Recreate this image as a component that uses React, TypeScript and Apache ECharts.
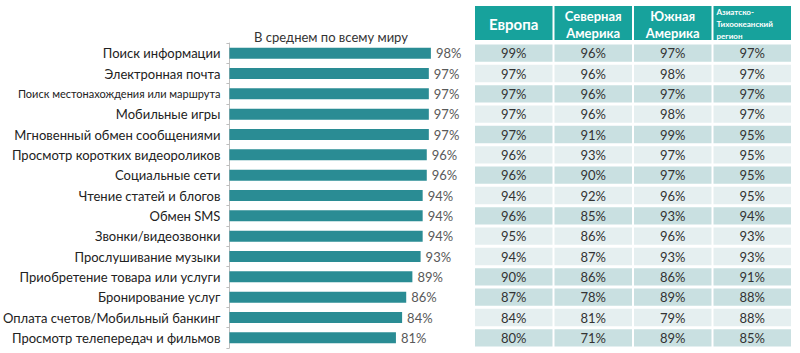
import React, { useEffect, useRef } from "react";
import * as echarts from "echarts";

const categories = [
  "Поиск информации",
  "Электронная почта",
  "Поиск местонахождения или маршрута",
  "Мобильные игры",
  "Мгновенный обмен сообщениями",
  "Просмотр коротких видеороликов",
  "Социальные сети",
  "Чтение статей и блогов",
  "Обмен SMS",
  "Звонки/видеозвонки",
  "Прослушивание музыки",
  "Приобретение товара или услуги",
  "Бронирование услуг",
  "Оплата счетов/Мобильный банкинг",
  "Просмотр телепередач и фильмов",
];
const worldAvg = [98, 97, 97, 97, 97, 96, 96, 94, 94, 94, 93, 89, 86, 84, 81];

const regions = ["Европа", "Северная\nАмерика", "Южная\nАмерика", "Азиатско-\nТихоокеанский\nрегион"];
const europe = [99, 97, 97, 97, 97, 96, 96, 94, 96, 95, 94, 90, 87, 84, 80];
const northAmerica = [96, 96, 96, 96, 91, 93, 90, 92, 85, 86, 87, 86, 78, 81, 71];
const southAmerica = [97, 98, 97, 98, 99, 97, 97, 96, 93, 96, 93, 86, 89, 79, 89];
const asiaPacific = [97, 97, 97, 97, 95, 95, 95, 95, 94, 93, 93, 91, 88, 88, 85];

const chartTitle = "В среднем по всему миру";

// styling
const DARK_ROWS = new Set([0, 2, 4, 6, 8, 11, 12, 14]);
const FONT = "Lato, 'Open Sans', sans-serif";

export default function App() {
  const ref = useRef<HTMLDivElement>(null);
  useEffect(() => {
    if (!ref.current) return;
    const chart = echarts.init(ref.current, null, { renderer: "svg" });
    const regionCols = [europe, northAmerica, southAmerica, asiaPacific];
    const cellData: number[][] = [];
    regionCols.forEach((col, ci) => col.forEach((v, ri) => cellData.push([ci, ri, v])));
    const rowIdx = categories.map((_, i) => String(i));

    chart.setOption({
      animation: false,
      backgroundColor: "#ffffff",
      graphic: [
        {
          type: "text",
          x: 331,
          y: 37,
          style: {
            text: chartTitle,
            align: "center",
            verticalAlign: "middle",
            fontSize: 13,
            fontFamily: FONT,
            fill: "#333333",
          },
        },
      ],
      grid: [
        { left: 206, top: 43, width: 229, height: 305, containLabel: false },
        { left: 474, top: 43, width: 318, height: 305 },
        { left: 474, top: 6, width: 318, height: 34 },
      ],
      xAxis: [
        { gridIndex: 0, type: "value", min: 0, max: 100, show: false },
        { gridIndex: 1, type: "category", data: regions, show: false },
        { gridIndex: 2, type: "category", data: regions, show: false },
      ],
      yAxis: [
        {
          gridIndex: 0,
          type: "category",
          inverse: true,
          data: categories.map((c, i) =>
            i === 2 ? { value: c, textStyle: { fontSize: 11 } } : c
          ),
          axisLine: { show: true, lineStyle: { color: "#bfbfbf", width: 1 } },
          axisTick: { show: true, length: 3, lineStyle: { color: "#bfbfbf" } },
          axisLabel: {
            fontSize: 13,
            fontFamily: FONT,
            color: "#222222",
            margin: 9,
          },
        },
        { gridIndex: 1, type: "category", inverse: true, data: rowIdx, show: false },
        { gridIndex: 2, type: "category", data: ["h"], show: false },
      ],
      series: [
        {
          type: "bar",
          xAxisIndex: 0,
          yAxisIndex: 0,
          data: worldAvg,
          barWidth: 11,
          itemStyle: { color: "#2a8c94" },
          label: {
            show: true,
            position: "right",
            distance: 5,
            formatter: "{c}%",
            fontSize: 13,
            fontFamily: FONT,
            color: "#595959",
          },
        },
        {
          type: "custom",
          xAxisIndex: 1,
          yAxisIndex: 1,
          data: cellData,
          renderItem: (params: any, api: any) => {
            const ci = api.value(0);
            const ri = api.value(1);
            const v = api.value(2);
            const c = api.coord([ci, ri]);
            const s = api.size([1, 1]);
            return {
              type: "group",
              children: [
                {
                  type: "rect",
                  shape: {
                    x: c[0] - s[0] / 2 + 1,
                    y: c[1] - s[1] / 2 + 1.5,
                    width: s[0] - 2,
                    height: s[1] - 3,
                  },
                  style: { fill: DARK_ROWS.has(ri) ? "#c9e0e1" : "#e5eff0" },
                },
                {
                  type: "text",
                  style: {
                    text: v + "%",
                    x: c[0],
                    y: c[1],
                    align: "center",
                    verticalAlign: "middle",
                    fontSize: 13,
                    fontFamily: FONT,
                    fill: "#333333",
                  },
                },
              ],
            };
          },
        },
        {
          type: "custom",
          xAxisIndex: 2,
          yAxisIndex: 2,
          data: regions.map((_, i) => [i, 0]),
          renderItem: (params: any, api: any) => {
            const ci = api.value(0);
            const c = api.coord([ci, 0]);
            const s = api.size([1, 1]);
            const small = ci === 3;
            const single = ci === 0;
            return {
              type: "group",
              children: [
                {
                  type: "rect",
                  shape: {
                    x: c[0] - s[0] / 2 + 1,
                    y: c[1] - s[1] / 2,
                    width: s[0] - 2,
                    height: s[1],
                  },
                  style: { fill: "#17a29c" },
                },
                {
                  type: "text",
                  style: {
                    text: regions[ci],
                    x: small ? c[0] - s[0] / 2 + 4 : c[0],
                    y: c[1] + 1,
                    align: small ? "left" : "center",
                    verticalAlign: "middle",
                    fontSize: small ? 8 : single ? 15 : 13,
                    lineHeight: small ? 12 : 17,
                    fontWeight: "bold",
                    fontFamily: FONT,
                    fill: "#ffffff",
                  },
                },
              ],
            };
          },
        },
      ],
    });
    return () => chart.dispose();
  }, []);
  return (
    <div
      ref={ref}
      style={{ position: "fixed", left: 0, top: 0, width: 800, height: 353 }}
    />
  );
}
